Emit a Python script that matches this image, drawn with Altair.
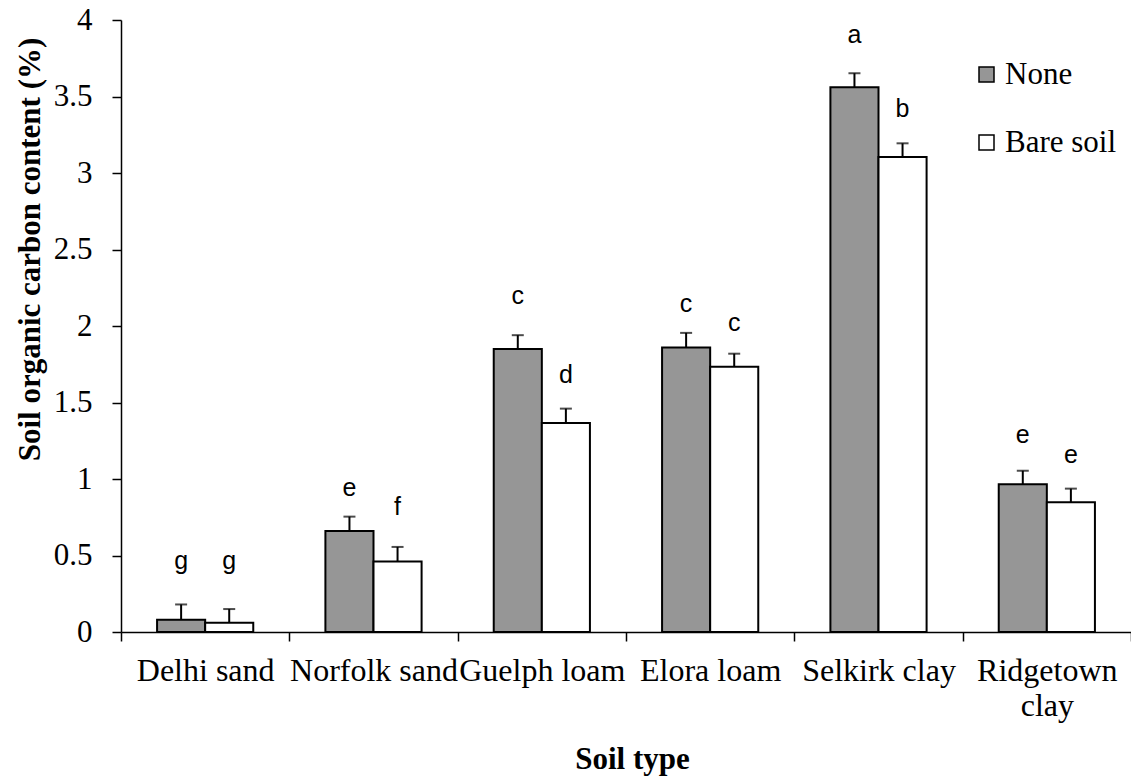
import altair as alt
import pandas as pd

soils = ["Delhi sand", "Norfolk sand", "Guelph loam", "Elora loam", "Selkirk clay", "Ridgetown clay"]
treatments = ["None", "Bare soil"]

none_vals = [0.08, 0.66, 1.85, 1.86, 3.56, 0.965]
none_err = [0.10, 0.094, 0.09, 0.095, 0.092, 0.089]
none_letters = ["g", "e", "c", "c", "a", "e"]
none_letter_y = [0.41, 0.889, 2.144, 2.093, 3.85, 1.235]

bare_vals = [0.06, 0.46, 1.366, 1.734, 3.105, 0.848]
bare_err = [0.09, 0.096, 0.094, 0.085, 0.089, 0.089]
bare_letters = ["g", "f", "d", "c", "b", "e"]
bare_letter_y = [0.41, 0.765, 1.625, 1.967, 3.368, 1.107]

rows = []
for i, s in enumerate(soils):
    rows.append({"soil": s, "treatment": "None", "value": none_vals[i],
                 "top": none_vals[i] + none_err[i], "letter": none_letters[i], "ly": none_letter_y[i]})
    rows.append({"soil": s, "treatment": "Bare soil", "value": bare_vals[i],
                 "top": bare_vals[i] + bare_err[i], "letter": bare_letters[i], "ly": bare_letter_y[i]})
df = pd.DataFrame(rows)

SERIF = "Liberation Serif"
Y_TITLE = "Soil organic carbon content (%)"

x_enc = alt.X(
    "soil:N", sort=soils,
    scale=alt.Scale(paddingInner=0, paddingOuter=0),
    axis=alt.Axis(
        tickBand="extent", labelAngle=0, domainColor="black", domainWidth=1.5,
        tickColor="black", tickWidth=1.5, tickSize=9,
        labelFont=SERIF, labelFontSize=32, labelColor="black",
        labelBaseline="alphabetic", labelPadding=39, labelLineHeight=35,
        labelLimit=400, labelOverlap=False,
        labelExpr="datum.label == 'Ridgetown clay' ? ['Ridgetown', 'clay'] : datum.label",
        title="Soil type", titleFont=SERIF, titleFontSize=31, titleFontWeight="bold",
        titleColor="black", titleX=511, titleY=136, titleBaseline="alphabetic",
        titleAlign="center",
    ),
)
xo_enc = alt.XOffset("treatment:N", sort=treatments,
                     scale=alt.Scale(paddingInner=0, paddingOuter=0.75))

y_scale = alt.Scale(domain=[0, 4], nice=False)
y_axis = alt.Axis(
    values=[0, 0.5, 1, 1.5, 2, 2.5, 3, 3.5, 4], labelExpr="format(datum.value, '~g')",
    grid=False,
    domainColor="black", domainWidth=1.5, tickColor="black", tickWidth=1.5,
    tickSize=9, labelFont=SERIF, labelFontSize=31, labelColor="black",
    labelPadding=20,
    titleFont=SERIF, titleFontSize=31, titleFontWeight="bold", titleColor="black",
    titleX=-91, titleY=229, titleBaseline="middle", titleAlign="center",
    titleAngle=270,
)

base = alt.Chart(df).encode(x=x_enc, xOffset=xo_enc)

bars = base.mark_bar(stroke="black", strokeWidth=2).encode(
    y=alt.Y("value:Q", scale=y_scale, axis=y_axis, title=Y_TITLE),
    fill=alt.Fill("treatment:N", sort=treatments,
                  scale=alt.Scale(domain=treatments, range=["#969696", "#ffffff"]),
                  legend=alt.Legend(
                      title=None, orient="none", legendX=850, legendY=39,
                      direction="vertical", symbolType="square", symbolSize=225,
                      symbolStrokeColor="black", symbolStrokeWidth=1.5,
                      labelFont=SERIF, labelFontSize=31, labelColor="black",
                      labelOffset=3, rowPadding=36, padding=0,
                  )),
)

rules = base.mark_rule(color="black", strokeWidth=2).encode(
    y=alt.Y("value:Q", scale=y_scale, axis=y_axis, title=Y_TITLE),
    y2="top:Q",
)

caps = base.mark_tick(color="black", thickness=2, size=12, orient="horizontal").encode(
    y=alt.Y("top:Q", scale=y_scale, axis=y_axis, title=Y_TITLE),
)

letters = base.mark_text(style="sigletter", baseline="alphabetic",
                         align="center", color="black").encode(
    y=alt.Y("ly:Q", scale=y_scale, axis=y_axis, title=Y_TITLE),
    text="letter:N",
)

chart = alt.layer(bars, rules, caps, letters).properties(
    width=1010, height=612,
    autosize=alt.AutoSizeParams(type="none"),
    padding={"left": 121, "top": 20, "right": 0, "bottom": 147},
    background="white",
).configure(
    style={"sigletter": {"font": "Liberation Sans", "fontSize": 25},
           "guide-label": {"font": SERIF}, "guide-title": {"font": SERIF}},
).configure_view(stroke=None)

chart.save("out.html", embed_options={"renderer": "svg", "actions": False})
